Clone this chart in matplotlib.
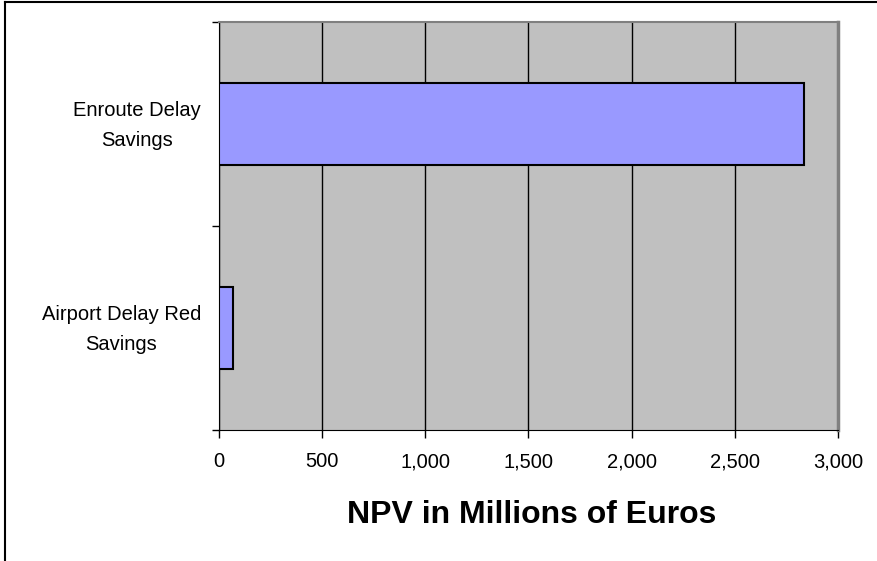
import matplotlib
matplotlib.use("Agg")
import matplotlib.pyplot as plt
from matplotlib.lines import Line2D
from matplotlib.transforms import ScaledTranslation

plt.rcParams["font.family"] = ["Liberation Sans", "DejaVu Sans"]

categories = ["Airport Delay Red\nSavings", "Enroute Delay\nSavings"]
npv = [67, 2835]
xticks = [0, 500, 1000, 1500, 2000, 2500, 3000]

fig = plt.figure(figsize=(8.77, 5.61), dpi=100)
ax = fig.add_axes([0.2497, 0.2335, 0.7058, 0.7273])

ax.set_facecolor("#C0C0C0")
ax.barh(range(len(categories)), npv, height=0.4, color="#9999FF",
        edgecolor="black", linewidth=1.5, zorder=3)

ax.set_xlim(0, 3000)
ax.set_ylim(-0.5, len(categories) - 0.5)
ax.set_xticks(xticks)
ax.set_xticklabels([f"{v:,}" for v in xticks], fontsize=14.5)
ax.xaxis.grid(True, color="black", linewidth=1.0, zorder=1)
ax.set_axisbelow(True)

# category boundaries get the tick marks, names sit between them
ax.set_yticks([i - 0.5 for i in range(len(categories) + 1)])
ax.set_yticklabels([])
ax.set_yticks(range(len(categories)), minor=True)
ax.set_yticklabels(categories, minor=True, fontsize=14.5, ha="right",
                   multialignment="center", linespacing=1.75)
ax.tick_params(axis="y", which="minor", length=0, pad=13)
ax.tick_params(axis="y", which="major", direction="out", length=5, width=1)
ax.tick_params(axis="x", direction="out", length=6, width=1, pad=10)

# nudge the two-line category names up a little
shift = ScaledTranslation(0, 6 / 100, fig.dpi_scale_trans)
for lbl in ax.get_yticklabels(minor=True):
    lbl.set_transform(lbl.get_transform() + shift)

ax.spines["left"].set_color("black")
ax.spines["bottom"].set_color("black")
ax.spines["top"].set_color("#808080")
ax.spines["top"].set_linewidth(1.5)
ax.spines["right"].set_color("#808080")
ax.spines["right"].set_linewidth(2.5)

fig.text(532 / 877, 1 - 515 / 561, "NPV in Millions of Euros", fontsize=23,
         fontweight="bold", ha="center", va="center")

# outer chart frame
fig.add_artist(Line2D([5 / 877, 5 / 877], [0, 1 - 2 / 561], color="black",
                      linewidth=1.5, transform=fig.transFigure))
fig.add_artist(Line2D([5 / 877, 1], [1 - 2 / 561, 1 - 2 / 561], color="black",
                      linewidth=1.5, transform=fig.transFigure))

fig.savefig("out.png", dpi=100)
